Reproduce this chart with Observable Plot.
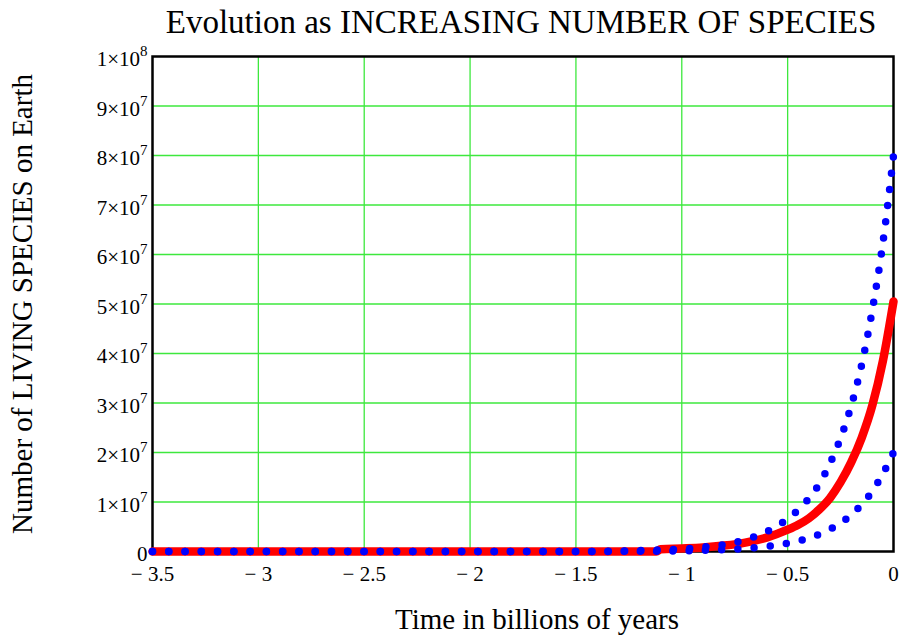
<!DOCTYPE html>
<html>
<head>
<meta charset="utf-8">
<script src="https://cdn.jsdelivr.net/npm/d3@7"></script>
<script src="https://cdn.jsdelivr.net/npm/@observablehq/plot@0.6"></script>
<style>
  body { margin: 0; background: #fff; }
  #wrap { width: 901px; height: 643px; position: relative; overflow: hidden; }
  #title { position: absolute; left: 521px; top: 0; transform: translateX(-50%); white-space: nowrap;
           font-family: "Liberation Serif", serif; font-size: 33px; line-height: 45px; color: #000; }
  #chart { position: absolute; left: 0; top: 45px; }
</style>
</head>
<body>
<div id="wrap">
  <div id="title">Evolution as INCREASING NUMBER OF SPECIES</div>
  <div id="chart"></div>
</div>
<script>
// Time axis (billions of years) for the dotted blue curves
const timeBlue = [-3.5, -2, -1.5, -1.2, -1.0, -0.9, -0.8, -0.7, -0.6, -0.5, -0.45, -0.4, -0.35, -0.3, -0.25, -0.2, -0.15, -0.1, -0.05, 0];
// Upper blue dotted curve (number of living species)
const speciesUpper = [0, 0, 0, 0.02e7, 0.05e7, 0.09e7, 0.14e7, 0.24e7, 0.40e7, 0.66e7, 0.84e7, 1.07e7, 1.37e7, 1.78e7, 2.29e7, 2.94e7, 3.78e7, 4.88e7, 6.24e7, 8.0e7];
// Lower blue dotted curve
const speciesLower = [0, 0, 0, 0.005e7, 0.013e7, 0.022e7, 0.037e7, 0.06e7, 0.10e7, 0.165e7, 0.21e7, 0.27e7, 0.35e7, 0.45e7, 0.57e7, 0.74e7, 0.95e7, 1.22e7, 1.57e7, 2.0e7];
// Red thick curve
const timeRed = [-3.5, -2, -1.12, -1.1, -1.0, -0.9, -0.8, -0.7, -0.6, -0.5, -0.45, -0.4, -0.35, -0.3, -0.25, -0.2, -0.15, -0.1, -0.05, 0];
const speciesRed = [0, 0, 0, 0.045e7, 0.06e7, 0.08e7, 0.12e7, 0.18e7, 0.28e7, 0.44e7, 0.54e7, 0.67e7, 0.85e7, 1.08e7, 1.40e7, 1.80e7, 2.30e7, 2.95e7, 3.85e7, 5.05e7];

// Tick values and labels
const xTicks = [-3.5, -3, -2.5, -2, -1.5, -1, -0.5, 0];
const xGrid = [-3, -2.5, -2, -1.5, -1, -0.5];
const yTicks = [0, 1e7, 2e7, 3e7, 4e7, 5e7, 6e7, 7e7, 8e7, 9e7, 1e8];
const yGrid = [1e7, 2e7, 3e7, 4e7, 5e7, 6e7, 7e7, 8e7, 9e7];
const titleX = "Time in billions of years";
const titleY = "Number of LIVING SPECIES on Earth";

const upper = timeBlue.map((t, i) => ({t, v: speciesUpper[i]}));
const lower = timeBlue.map((t, i) => ({t, v: speciesLower[i]}));
const red = timeRed.map((t, i) => ({t, v: speciesRed[i]}));

const green = "#3de83d";

const svg = Plot.plot({
  width: 901,
  height: 598,
  marginTop: 11,
  marginBottom: 92,
  marginLeft: 152,
  marginRight: 8,
  style: {fontFamily: "'Liberation Serif', serif", fontSize: "20px", color: "#000", background: "#fff", overflow: "visible"},
  x: {domain: [-3.5, 0]},
  y: {domain: [0, 1e8]},
  marks: [
    Plot.gridX(xGrid, {stroke: green, strokeOpacity: 1, strokeWidth: 1.3}),
    Plot.gridY(yGrid, {stroke: green, strokeOpacity: 1, strokeWidth: 1.3}),
    Plot.frame({stroke: "#000", strokeWidth: 2.5}),
    Plot.axisX(xTicks, {tickSize: 0, tickPadding: 15, fontSize: 21, label: null,
      tickFormat: d => d === 0 ? "0" : "\u2212 " + Math.abs(d)}),
    Plot.axisY(yTicks, {tickSize: 0, tickPadding: 5, fontSize: 21, label: null, dy: 3,
      tickFormat: d => d === 0 ? "0" : (d === 1e8 ? "1×10^8" : (d / 1e7) + "×10^7")}),
    Plot.line(red, {x: "t", y: "v", stroke: "#ff0000", strokeWidth: 8.5, curve: "monotone-x"}),
    Plot.line(upper, {x: "t", y: "v", stroke: "#0000ff", strokeWidth: 7.5, strokeLinecap: "round",
      strokeDasharray: "0 16.4", curve: "monotone-x"}),
    Plot.line(lower, {x: "t", y: "v", stroke: "#0000ff", strokeWidth: 7.5, strokeLinecap: "round",
      strokeDasharray: "0 16.4", curve: "monotone-x"}),
    Plot.text([titleX], {frameAnchor: "bottom", dy: 77, dx: 14, fontSize: 29, fill: "#000"}),
    Plot.text([titleY], {frameAnchor: "left", dx: -130, rotate: -90, textAnchor: "middle", fontSize: 29, fill: "#000"})
  ]
});

// superscript exponents in y tick labels
svg.querySelectorAll('g[aria-label="y-axis tick label"] text').forEach(el => {
  const s = el.textContent;
  el.setAttribute("font-size", "21");
  if (s.includes("^")) {
    const [base, exp] = s.split("^");
    el.textContent = "";
    const ns = "http://www.w3.org/2000/svg";
    const t1 = document.createElementNS(ns, "tspan");
    t1.textContent = base;
    t1.setAttribute("font-size", "21");
    const t2 = document.createElementNS(ns, "tspan");
    t2.textContent = exp;
    t2.setAttribute("dy", "-10");
    t2.setAttribute("font-size", "15");
    el.appendChild(t1);
    el.appendChild(t2);
  }
});

document.getElementById("chart").appendChild(svg);

// make the dotted curves end with a dot at (close to) their final point
try {
  const groups = Array.from(svg.querySelectorAll('g[aria-label="line"]'));
  groups.slice(1).forEach(g => {
    const p = g.querySelector("path");
    const L = p ? p.getTotalLength() : NaN;
    if (isFinite(L) && L > 100) {
      const n = Math.round(L / 16.4);
      g.setAttribute("stroke-dasharray", "0 " + ((L - 1.5) / n).toFixed(3));
    }
  });
} catch (e) {}
</script>
</body>
</html>
